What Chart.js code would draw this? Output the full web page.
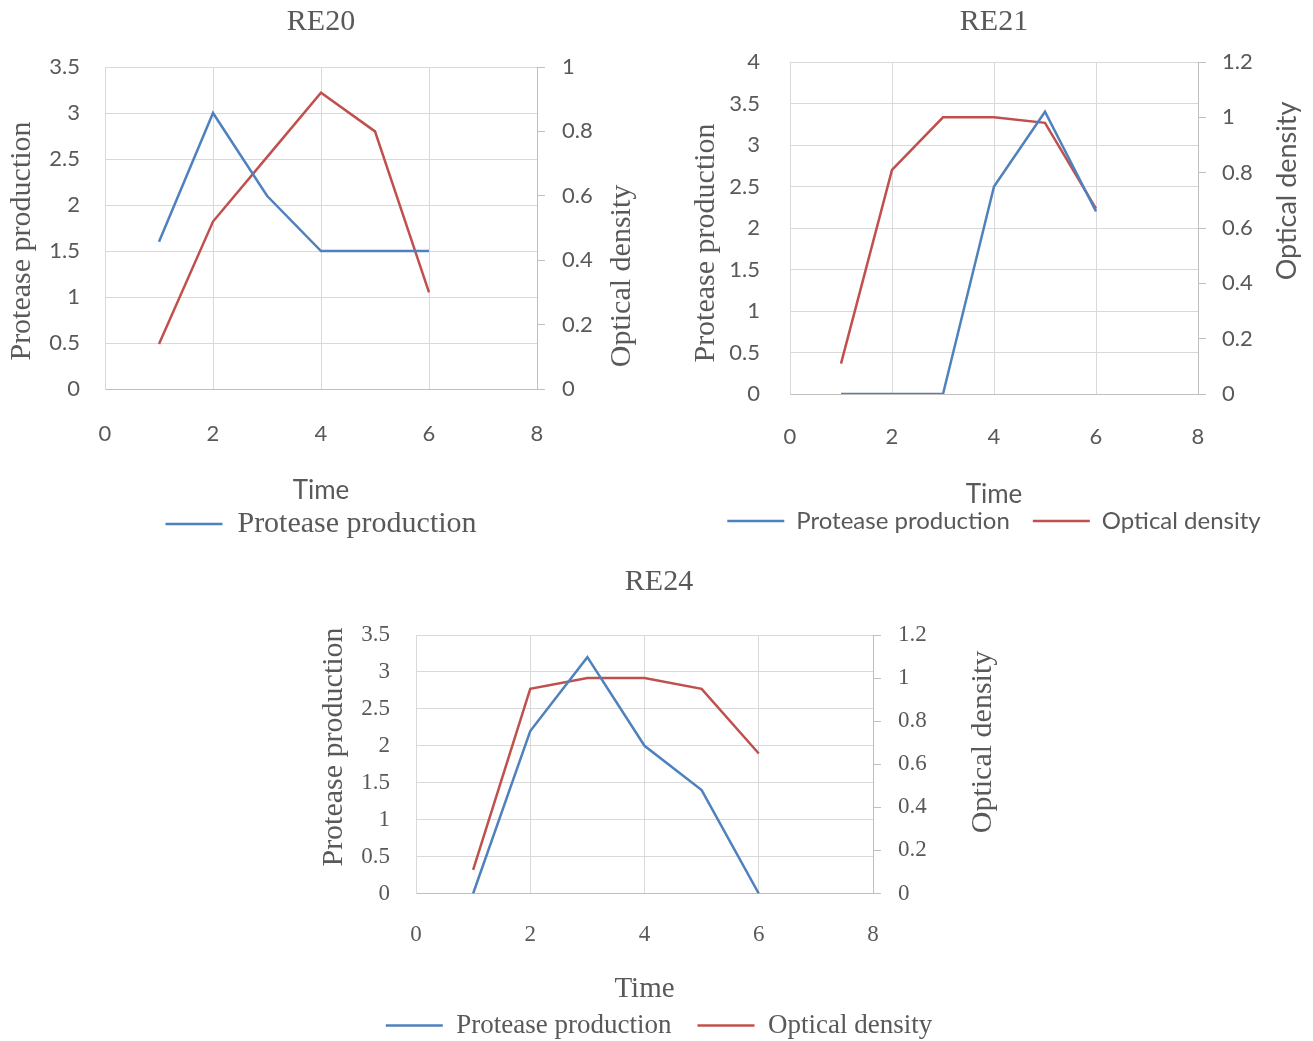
<!DOCTYPE html>
<html>
<head>
<meta charset="utf-8">
<script src="https://cdn.jsdelivr.net/npm/chart.js@4.4.1/dist/chart.umd.min.js"></script>
<style>
  html, body { margin: 0; padding: 0; background: #fff; overflow: hidden; width: 1313px; height: 1041px; }
  canvas { position: absolute; }
</style>
</head>
<body>
<canvas id="re20" width="642" height="549" style="left:0px;top:0px"></canvas>
<canvas id="re21" width="668" height="543" style="left:660px;top:0px"></canvas>
<canvas id="re24" width="718" height="489" style="left:300px;top:560px"></canvas>
<script>
// sampling times
const times = [1, 2, 3, 4, 5, 6];
const timeTicks = [0, 2, 4, 6, 8];

// RE20
const re20Protease = [1.6, 3.0, 2.1, 1.5, 1.5, 1.5];
const re20Density = [0.14, 0.52, 0.72, 0.92, 0.80, 0.30];
// RE21
const re21Protease = [0, 0, 0, 2.5, 3.4, 2.2];
const re21Density = [0.11, 0.81, 1.0, 1.0, 0.98, 0.67];
// RE24
const re24Protease = [0, 2.2, 3.2, 2.0, 1.4, 0];
const re24Density = [0.11, 0.95, 1.0, 1.0, 0.95, 0.65];

const BLUE = "#4F81BD";
const RED = "#C0504D";
const TEXT = "#595959";
const GRID = "#d9d9d9";
const AXIS = "#bfbfbf";
const SANS = "Lato, 'Liberation Sans', sans-serif";
const SERIF = "'Liberation Serif', 'DejaVu Serif', serif";

// excel style numbers: 1 not 1.0
const fmt = (v) => String(Math.round(v * 10) / 10);

// vertical axis titles (right one reads bottom-to-top like the left one)
const sideTitles = {
  id: "sideTitles",
  afterDraw(chart, args, opts) {
    const ctx = chart.ctx;
    (opts.items || []).forEach((t) => {
      ctx.save();
      ctx.translate(t.x, t.y);
      ctx.rotate(-Math.PI / 2);
      ctx.font = t.font;
      ctx.fillStyle = TEXT;
      ctx.textAlign = "center";
      ctx.textBaseline = "middle";
      ctx.fillText(t.text, 0, 0);
      ctx.restore();
    });
  },
};

function pts(vals) {
  return times.map((t, i) => ({ x: t, y: vals[i] }));
}

function makeChart(id, o) {
  return new Chart(document.getElementById(id), {
    type: "line",
    data: {
      datasets: [
        {
          label: "Protease production",
          data: pts(o.protease),
          borderColor: BLUE,
          backgroundColor: BLUE,
          borderWidth: 2.5,
          pointRadius: 0,
          yAxisID: "y",
        },
        {
          label: "Optical density",
          data: pts(o.density),
          borderColor: RED,
          backgroundColor: RED,
          borderWidth: 2.5,
          pointRadius: 0,
          yAxisID: "y1",
        },
      ],
    },
    plugins: [sideTitles],
    options: {
      responsive: false,
      animation: false,
      events: [],
      plugins: {
        title: {
          display: true,
          text: o.title,
          color: TEXT,
          font: { family: SERIF, size: 30, weight: "normal" },
          padding: { top: 4, bottom: o.titleGap },
        },
        legend: {
          position: "bottom",
          labels: {
            usePointStyle: true,
            pointStyle: "line",
            pointStyleWidth: 57,
            padding: o.legendPad,
            color: TEXT,
            font: o.legendFont,
            filter: (item) => o.legendItems.includes(item.text),
          },
        },
        tooltip: { enabled: false },
        sideTitles: { items: o.sideTitles },
      },
      scales: {
        x: {
          type: "linear",
          min: timeTicks[0],
          max: timeTicks[timeTicks.length - 1],
          ticks: { stepSize: 2, padding: o.xTickPad, color: TEXT, font: o.tickFont, callback: fmt },
          grid: { color: GRID, drawTicks: false },
          border: { color: AXIS },
          title: {
            display: true,
            text: "Time",
            color: TEXT,
            font: o.timeFont,
            padding: { top: 0, bottom: o.timePad },
          },
          afterFit: (s) => { s.height = o.xHeight; },
        },
        y: {
          position: "left",
          min: 0,
          max: o.yMax,
          ticks: { stepSize: 0.5, padding: o.yTickPad, color: TEXT, font: o.tickFont, callback: fmt },
          grid: { color: GRID, drawTicks: false },
          border: { color: GRID },
          afterFit: (s) => { s.width = o.yWidth; },
        },
        y1: {
          position: "right",
          min: 0,
          max: o.y1Max,
          ticks: { stepSize: 0.2, padding: o.y1TickPad, color: TEXT, font: o.tickFont, callback: fmt },
          grid: { drawOnChartArea: false, drawTicks: true, tickLength: 8, color: AXIS },
          border: { color: AXIS },
          afterFit: (s) => { s.width = o.y1Width; },
        },
      },
    },
  });
}

makeChart("re20", {
  title: "RE20",
  protease: re20Protease,
  density: re20Density,
  yMax: 3.5,
  y1Max: 1,
  titleGap: 27,
  tickFont: { family: SANS, size: 22 },
  timeFont: { family: SANS, size: 26 },
  legendFont: { family: SERIF, size: 30 },
  legendPad: 10,
  legendItems: ["Protease production"],
  xTickPad: 32,
  timePad: -7,
  xHeight: 110,
  yTickPad: 25,
  yWidth: 105,
  y1TickPad: 17,
  y1Width: 105,
  sideTitles: [
    { text: "Protease production", x: 22, y: 241, font: "30px " + SERIF },
    { text: "Optical density", x: 622, y: 276, font: "30px " + SERIF },
  ],
});

makeChart("re21", {
  title: "RE21",
  protease: re21Protease,
  density: re21Density,
  yMax: 4,
  y1Max: 1.2,
  titleGap: 22,
  tickFont: { family: SANS, size: 22 },
  timeFont: { family: SANS, size: 26 },
  legendFont: { family: SANS, size: 24 },
  legendPad: 23,
  legendItems: ["Protease production", "Optical density"],
  xTickPad: 30,
  timePad: -24,
  xHeight: 92,
  yTickPad: 30,
  yWidth: 130,
  y1TickPad: 16,
  y1Width: 130,
  sideTitles: [
    { text: "Protease production", x: 46, y: 243, font: "30px " + SERIF },
    { text: "Optical density", x: 627, y: 191, font: "27px " + SANS },
  ],
});

makeChart("re24", {
  title: "RE24",
  protease: re24Protease,
  density: re24Density,
  yMax: 3.5,
  y1Max: 1.2,
  titleGap: 35,
  tickFont: { family: SERIF, size: 23 },
  timeFont: { family: SERIF, size: 29 },
  legendFont: { family: SERIF, size: 27 },
  legendPad: 26,
  legendItems: ["Protease production", "Optical density"],
  xTickPad: 28,
  timePad: -21,
  xHeight: 92.5,
  yTickPad: 26,
  yWidth: 116,
  y1TickPad: 17,
  y1Width: 145,
  sideTitles: [
    { text: "Protease production", x: 34, y: 187, font: "30px " + SERIF },
    { text: "Optical density", x: 683, y: 182, font: "30px " + SERIF },
  ],
});
</script>
</body>
</html>
